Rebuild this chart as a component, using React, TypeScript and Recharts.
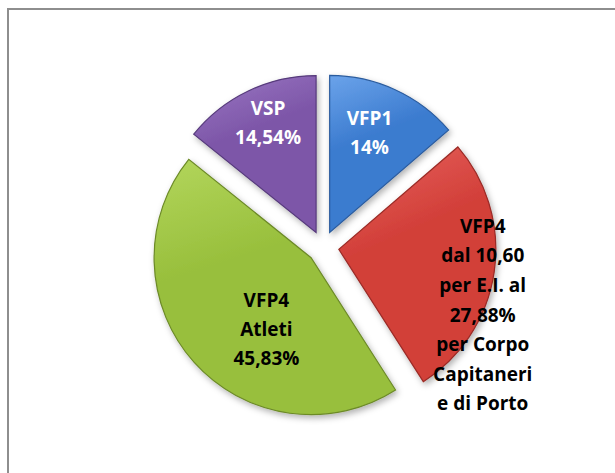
import { PieChart, Pie, Cell } from "recharts";

const categories = ["VFP1", "VFP4 Forze Armate", "VFP4 Atleti", "VSP"];
const shares = [14, 27.88, 45.83, 14.54];
const labelLines = [
  ["VFP1", "14%"],
  ["VFP4", "dal 10,60", "per E.I. al", "27,88%", "per Corpo", "Capitaneri", "e di Porto"],
  ["VFP4", "Atleti", "45,83%"],
  ["VSP", "14,54%"],
];

const data = categories.map((name, i) => ({ name, value: shares[i] }));

// look of each slice: light / base / edge colour, label colour and placement
const palette = [
  { light: "#6ba3ea", base: "#3b7bcf", edge: "#2b5c9e", text: "#ffffff" },
  { light: "#e86560", base: "#d23f39", edge: "#9a2a25", text: "#000000" },
  { light: "#b3d65c", base: "#98bf3c", edge: "#6c8a28", text: "#000000" },
  { light: "#9b78c4", base: "#7d56a8", edge: "#573b7c", text: "#ffffff" },
];
// label distance from slice tip and turn from the slice middle (degrees, clockwise)
const labelPlace = [
  { dist: 108, turn: -3, lh: 29 },
  { dist: 158, turn: 16, lh: 29.6 },
  { dist: 84, turn: -16, lh: 29 },
  { dist: 120, turn: 2, lh: 29 },
];

const W = 615;
const H = 473;
const CX = 318;
const CY = 242;
const R = 157;
const EXPLODE = 16;

const total = shares.reduce((a, b) => a + b, 0);
const midAngles = shares.map((v, i) => {
  const before = shares.slice(0, i).reduce((a, b) => a + b, 0);
  return 90 - (360 * (before + v / 2)) / total;
});

const RAD = Math.PI / 180;

function makeLabel(slice: number) {
  return (props: any) => {
    if (props.index !== slice) return <g />;
    const place = labelPlace[slice];
    const ang = (props.midAngle - place.turn) * RAD;
    const x = props.cx + place.dist * Math.cos(ang);
    const y = props.cy - place.dist * Math.sin(ang);
    const lines = labelLines[slice];
    const top = y - ((lines.length - 1) * place.lh) / 2;
    return (
      <text
        x={x}
        y={top}
        textAnchor="middle"
        dominantBaseline="central"
        fontFamily="'Open Sans', sans-serif"
        fontWeight={700}
        fontSize={19}
        fill={palette[slice].text}
      >
        {lines.map((ln, k) => (
          <tspan key={k} x={x} y={top + k * place.lh}>
            {ln}
          </tspan>
        ))}
      </text>
    );
  };
}

export default function App() {
  return (
    <div style={{ position: "absolute", left: 0, top: 0, width: W, height: H, background: "#fff" }}>
      <div
        style={{
          position: "absolute",
          left: 7,
          top: 8,
          right: 0,
          bottom: 0,
          borderTop: "2px solid #8e8e8e",
          borderLeft: "2px solid #8e8e8e",
        }}
      />
      <div style={{ position: "absolute", left: 0, top: 0 }}>
        <PieChart width={W} height={H}>
          <defs>
            {palette.map((p, i) => (
              <linearGradient key={i} id={`grad${i}`} x1="0" y1="0" x2="0.3" y2="1">
                <stop offset="0%" stopColor={p.light} />
                <stop offset="45%" stopColor={p.base} />
                <stop offset="100%" stopColor={p.base} />
              </linearGradient>
            ))}
            <filter id="shade" x="-20%" y="-20%" width="140%" height="140%">
              <feDropShadow dx="2" dy="3" stdDeviation="3" floodColor="#000" floodOpacity="0.3" />
            </filter>
          </defs>
          {data.map((_, slice) => {
            const a = midAngles[slice] * RAD;
            return (
              <Pie
                key={slice}
                data={data}
                dataKey="value"
                nameKey="name"
                cx={CX + EXPLODE * Math.cos(a)}
                cy={CY - EXPLODE * Math.sin(a)}
                outerRadius={R}
                startAngle={90}
                endAngle={-270}
                label={makeLabel(slice)}
                labelLine={false}
                isAnimationActive={false}
              >
                {data.map((__, i) =>
                  i === slice ? (
                    <Cell
                      key={i}
                      fill={`url(#grad${i})`}
                      stroke={palette[i].edge}
                      strokeWidth={1.2}
                      filter="url(#shade)"
                    />
                  ) : (
                    <Cell key={i} fill="none" stroke="none" />
                  )
                )}
              </Pie>
            );
          })}
        </PieChart>
      </div>
    </div>
  );
}
